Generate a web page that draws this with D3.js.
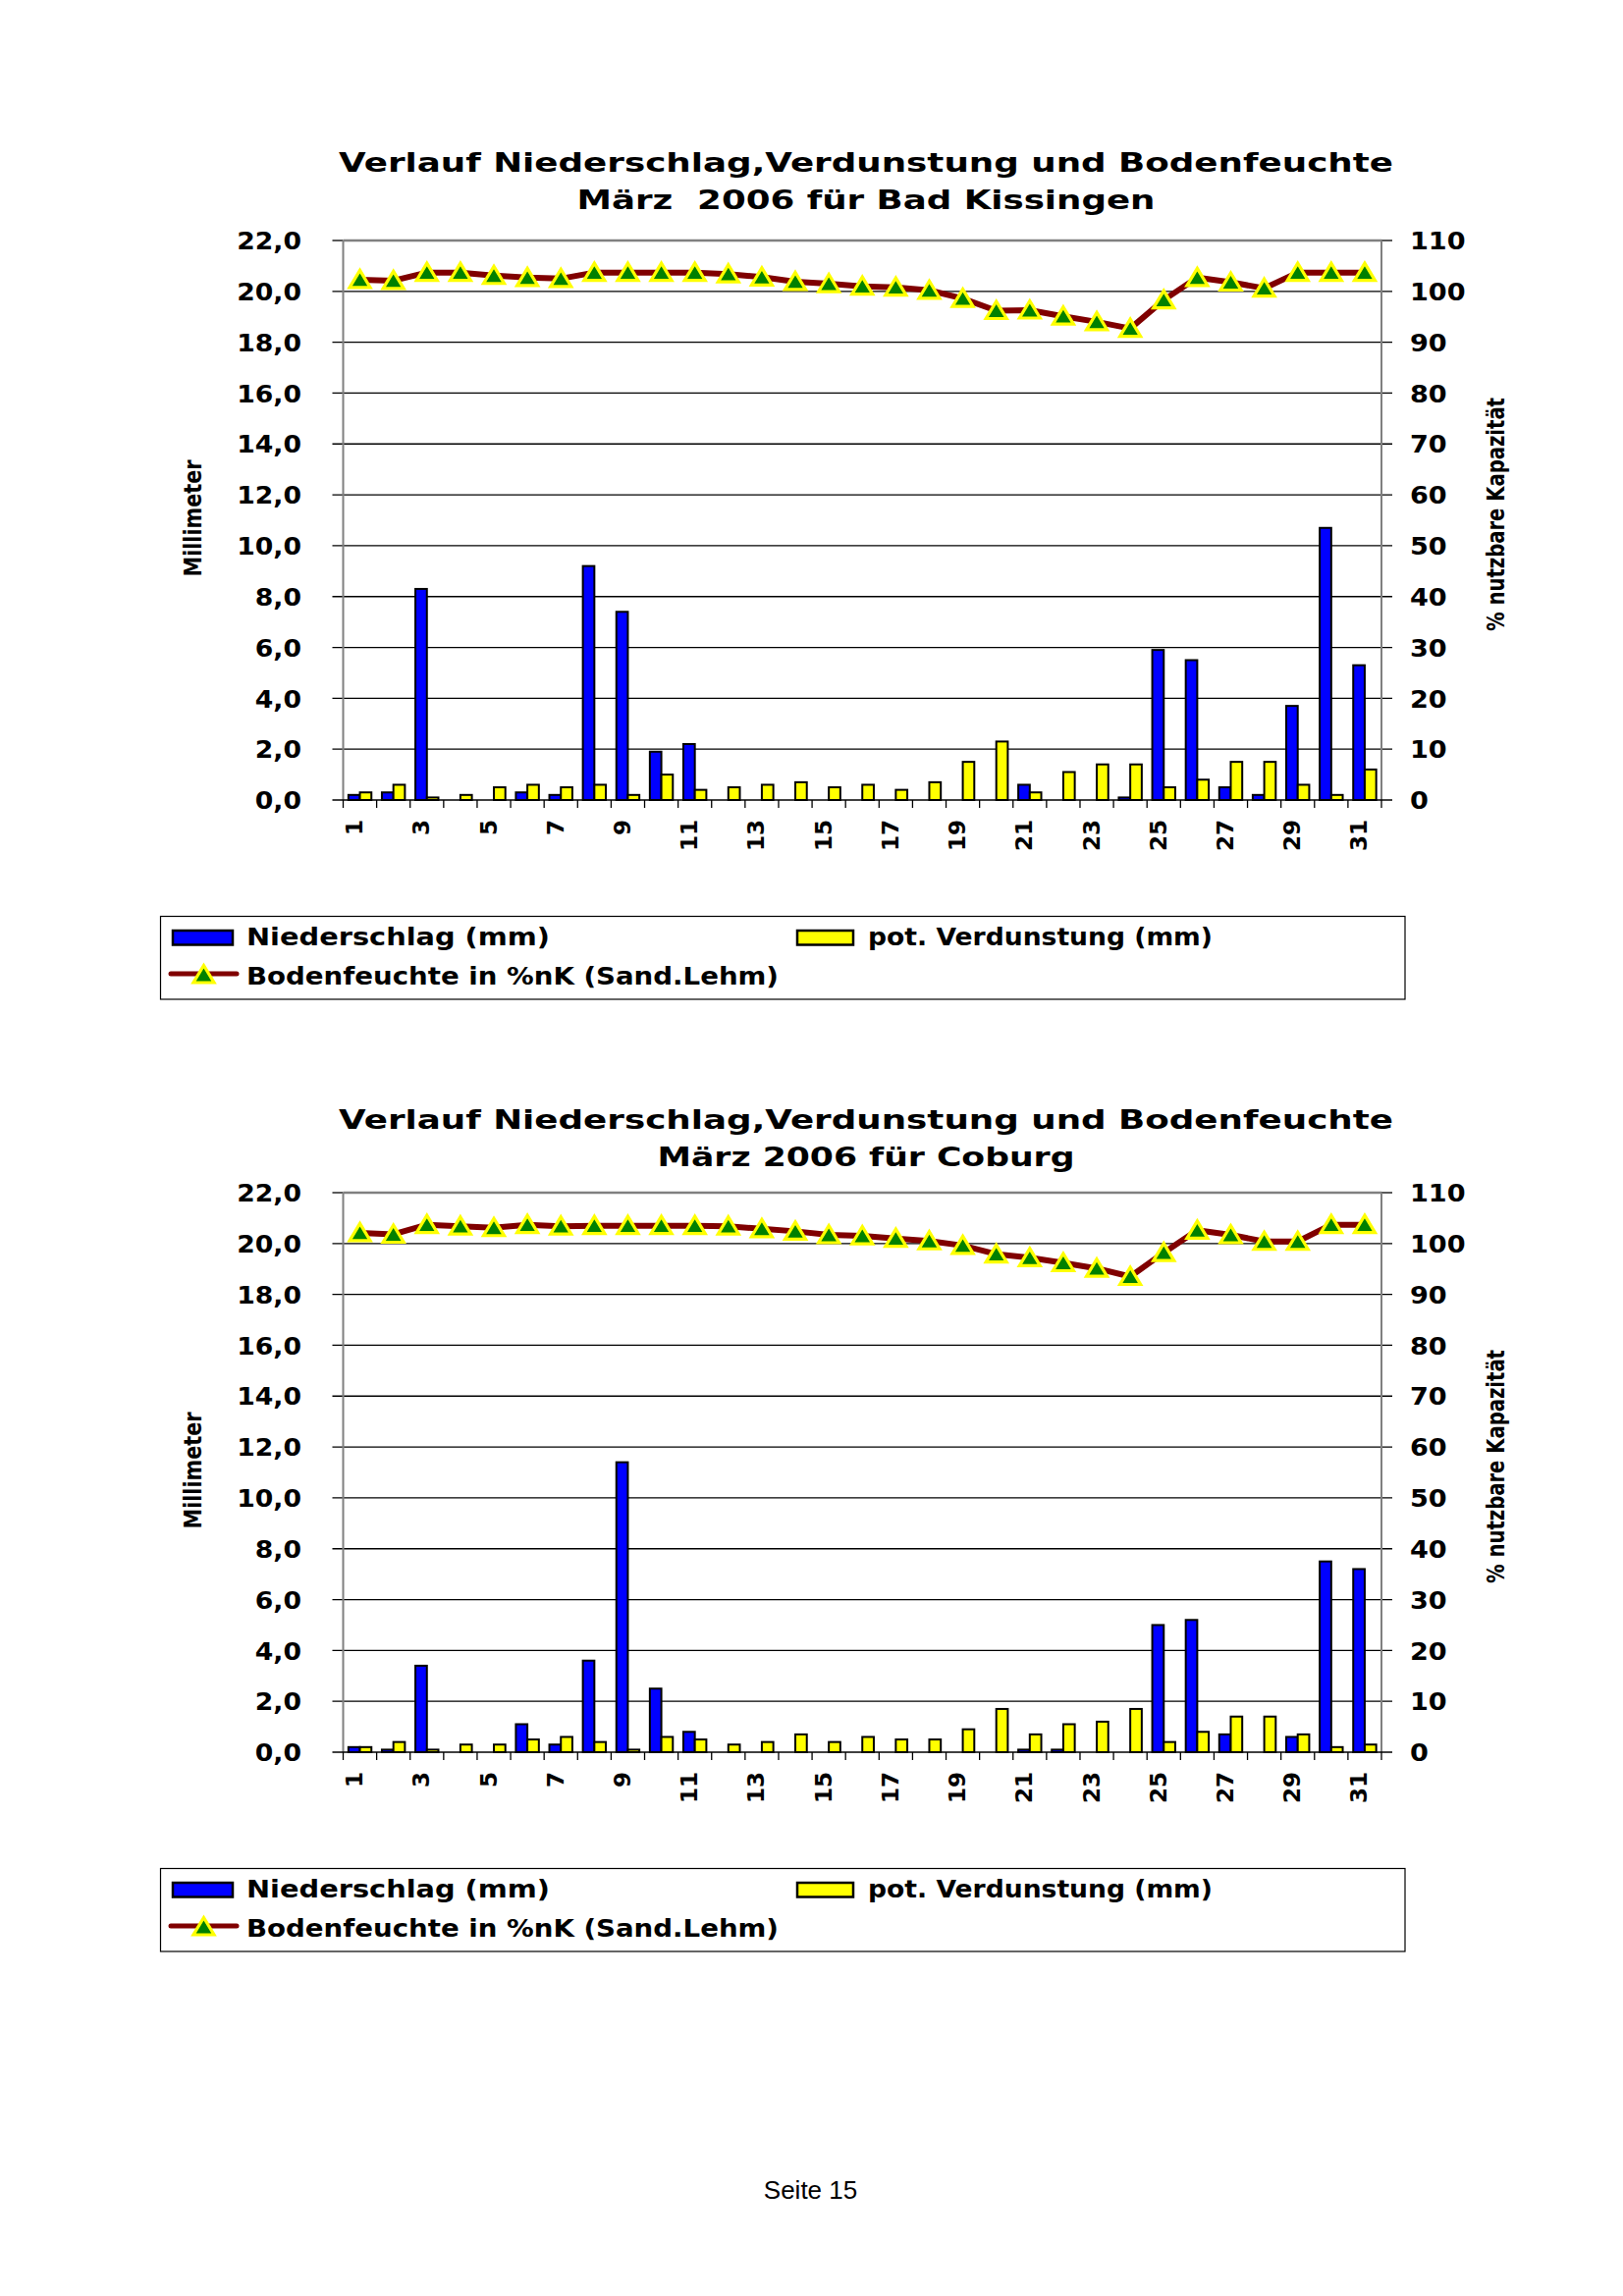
<!DOCTYPE html>
<html>
<head>
<meta charset="utf-8">
<script src="https://cdn.jsdelivr.net/npm/d3@7"></script>
<style>
  html, body { margin: 0; padding: 0; background: #fff; }
  svg { display: block; }
</style>
</head>
<body>
<script>
// ---------------- DATA ----------------
const days = [1,2,3,4,5,6,7,8,9,10,11,12,13,14,15,16,17,18,19,20,21,22,23,24,25,26,27,28,29,30,31];
const dayLabels = [1,3,5,7,9,11,13,15,17,19,21,23,25,27,29,31];
const mmTicks = [0,2,4,6,8,10,12,14,16,18,20,22];
const pctTicks = [0,10,20,30,40,50,60,70,80,90,100,110];

const titleLine1 = "Verlauf Niederschlag,Verdunstung und Bodenfeuchte";
const titleKissingen = "März  2006 für Bad Kissingen";
const titleCoburg = "März 2006 für Coburg";
const seriesNames = ["Niederschlag (mm)", "pot. Verdunstung (mm)", "Bodenfeuchte in %nK (Sand.Lehm)"];
const axisTitleLeft = "Millimeter";
const axisTitleRight = "% nutzbare Kapazität";
const pageLabel = "Seite 15";

// Bad Kissingen
const kissingenRain = [0.2,0.3,8.3,0,0,0.3,0.2,9.2,7.4,1.9,2.2,0,0,0,0,0,0,0,0,0,0.6,0,0,0.1,5.9,5.5,0.5,0.2,3.7,10.7,5.3];
const kissingenEvap = [0.3,0.6,0.1,0.2,0.5,0.6,0.5,0.6,0.2,1.0,0.4,0.5,0.6,0.7,0.5,0.6,0.4,0.7,1.5,2.3,0.3,1.1,1.4,1.4,0.5,0.8,1.5,1.5,0.6,0.2,1.2];
const kissingenSoil = [102.3,102.1,103.7,103.7,103.1,102.7,102.5,103.7,103.7,103.7,103.7,103.4,102.8,101.9,101.5,101.0,100.8,100.2,98.6,96.2,96.3,95.1,94.0,92.7,98.3,102.7,101.8,100.6,103.7,103.7,103.7];

// Coburg
const coburgRain = [0.2,0.1,3.4,0,0,1.1,0.3,3.6,11.4,2.5,0.8,0,0,0,0,0,0,0,0,0,0.1,0.1,0,0,5.0,5.2,0.7,0,0.6,7.5,7.2];
const coburgEvap = [0.2,0.4,0.1,0.3,0.3,0.5,0.6,0.4,0.1,0.6,0.5,0.3,0.4,0.7,0.4,0.6,0.5,0.5,0.9,1.7,0.7,1.1,1.2,1.7,0.4,0.8,1.4,1.4,0.7,0.2,0.3];
const coburgSoil = [102.1,101.8,103.7,103.4,103.1,103.7,103.4,103.5,103.5,103.5,103.5,103.4,102.9,102.4,101.7,101.5,101.0,100.5,99.6,97.9,97.2,96.2,95.1,93.5,98.2,102.6,101.7,100.4,100.4,103.7,103.7];

// ---------------- DRAWING ----------------
const W = 1653, H = 2339;
const BOLD = "'DejaVu Sans', Verdana, sans-serif";
const svg = d3.select("body").append("svg").attr("width", W).attr("height", H);
svg.append("rect").attr("width", W).attr("height", H).attr("fill", "#fff");

function fit(sel, target) {
  sel.attr("textLength", target).attr("lengthAdjust", "spacingAndGlyphs");
}
function stretch(sel, f) {
  sel.each(function () {
    const w = this.getComputedTextLength();
    d3.select(this).attr("textLength", w * f).attr("lengthAdjust", "spacingAndGlyphs");
  });
}

const charts = [
  { title2: titleKissingen, t2w: 589, top: 245, t1y: 175, t2y: 213, legendTop: 933,
    rain: kissingenRain, evap: kissingenEvap, soil: kissingenSoil },
  { title2: titleCoburg, t2w: 425, top: 1215, t1y: 1150, t2y: 1188, legendTop: 1903,
    rain: coburgRain, evap: coburgEvap, soil: coburgSoil }
];

const X0 = 349.5, X1 = 1407, PH = 570, CX = 882;

const triPath = "M0,-9.5L10.5,8L-10.5,8Z";

charts.forEach(c => {
  const g = svg.append("g");
  const top = c.top, bottom = top + PH;

  // Titles
  g.append("text").attr("x", CX).attr("y", c.t1y).attr("text-anchor", "middle")
    .style("font", `bold 27px ${BOLD}`).text(titleLine1).call(fit, 1074);
  g.append("text").attr("x", CX).attr("y", c.t2y).attr("text-anchor", "middle")
    .style("font", `bold 27px ${BOLD}`).style("white-space", "pre").text(c.title2).call(fit, c.t2w);

  // Scales
  const x = d3.scaleBand().domain(days).range([X0, X1]).padding(0);
  const sub = d3.scaleBand().domain(["rain", "evap"]).range([0, x.bandwidth()])
    .paddingInner(0).paddingOuter(0.457);
  const yL = d3.scaleLinear().domain([0, 22]).range([bottom, top]);
  const yR = d3.scaleLinear().domain([0, 110]).range([bottom, top]);

  // Gridlines (with tick extensions on both sides)
  g.append("g").selectAll("line").data(mmTicks.filter(t => t > 0 && t < 22)).join("line")
    .attr("x1", X0 - 11).attr("x2", X1 + 11)
    .attr("y1", d => yL(d)).attr("y2", d => yL(d))
    .attr("stroke", "#000").attr("stroke-width", 1.3);
  g.append("line").attr("x1", X0 - 11).attr("x2", X0).attr("y1", yL(22)).attr("y2", yL(22))
    .attr("stroke", "#000").attr("stroke-width", 1.3);
  g.append("line").attr("x1", X1).attr("x2", X1 + 11).attr("y1", yL(22)).attr("y2", yL(22))
    .attr("stroke", "#000").attr("stroke-width", 1.3);

  // Bars
  const keys = [["rain", c.rain, "#0000FF"], ["evap", c.evap, "#FFFF00"]];
  keys.forEach(([k, arr, col]) => {
    g.append("g").selectAll("rect")
      .data(days.map((d, i) => ({ d, v: arr[i] })).filter(o => o.v > 0))
      .join("rect")
      .attr("x", o => x(o.d) + sub(k))
      .attr("width", sub.bandwidth())
      .attr("y", o => yL(o.v))
      .attr("height", o => yL(0) - yL(o.v))
      .attr("fill", col).attr("stroke", "#000").attr("stroke-width", 2);
  });

  // Frame: top, left, right gray; bottom black
  g.append("line").attr("x1", X0).attr("x2", X1).attr("y1", top).attr("y2", top)
    .attr("stroke", "#808080").attr("stroke-width", 2.5);
  g.append("line").attr("x1", X0).attr("x2", X0).attr("y1", top).attr("y2", bottom)
    .attr("stroke", "#808080").attr("stroke-width", 2);
  g.append("line").attr("x1", X1).attr("x2", X1).attr("y1", top).attr("y2", bottom)
    .attr("stroke", "#808080").attr("stroke-width", 2);
  g.append("line").attr("x1", X0 - 11).attr("x2", X1 + 11).attr("y1", bottom).attr("y2", bottom)
    .attr("stroke", "#000").attr("stroke-width", 1.5);

  // Category boundary ticks
  const bounds = days.map(d => x(d)).concat([X1]);
  g.append("g").selectAll("line").data(bounds).join("line")
    .attr("x1", d => d).attr("x2", d => d).attr("y1", bottom).attr("y2", bottom + 8)
    .attr("stroke", "#000").attr("stroke-width", 1.3);

  // Left axis labels
  const axL = g.append("g").attr("transform", `translate(${X0},0)`)
    .call(d3.axisLeft(yL).tickValues(mmTicks).tickSize(0).tickPadding(42.5)
      .tickFormat(d => d.toFixed(1).replace(".", ",")));
  axL.select(".domain").remove();
  axL.selectAll("text").attr("dy", "0.36em").style("font", `bold 24px ${BOLD}`).attr("fill", "#000")
    .call(stretch, 1.11);

  // Right axis labels
  const axR = g.append("g").attr("transform", `translate(${X1},0)`)
    .call(d3.axisRight(yR).tickValues(pctTicks).tickSize(0).tickPadding(29));
  axR.select(".domain").remove();
  axR.selectAll("text").attr("dy", "0.36em").style("font", `bold 24px ${BOLD}`).attr("fill", "#000")
    .call(stretch, 1.13);

  // Bottom axis labels (rotated)
  const axB = g.append("g").attr("transform", `translate(0,${bottom})`)
    .call(d3.axisBottom(x).tickValues(dayLabels).tickSize(0));
  axB.select(".domain").remove();
  axB.selectAll("text")
    .attr("transform", "rotate(-90)")
    .attr("x", -20).attr("y", 2.5).attr("dy", null)
    .attr("text-anchor", "end")
    .style("font", `bold 23px ${BOLD}`).attr("fill", "#000");

  // Axis titles
  const midY = top + 283;
  g.append("text").attr("transform", `translate(205,${midY}) rotate(-90)`)
    .attr("text-anchor", "middle").style("font", `bold 24px ${BOLD}`)
    .text(axisTitleLeft).call(fit, 119);
  g.append("text").attr("transform", `translate(1532,${midY - 4}) rotate(-90)`)
    .attr("text-anchor", "middle").style("font", `bold 24px ${BOLD}`)
    .text(axisTitleRight).call(fit, 238);

  // Soil moisture line + markers
  const cxOf = i => x(days[i]) + x.bandwidth() / 2;
  const line = d3.line().x((d, i) => cxOf(i)).y(d => yR(d));
  g.append("path").datum(c.soil).attr("d", line)
    .attr("fill", "none").attr("stroke", "#800000").attr("stroke-width", 6)
    .attr("stroke-linejoin", "round");
  g.append("g").selectAll("path").data(c.soil).join("path")
    .attr("d", triPath)
    .attr("transform", (d, i) => `translate(${cxOf(i)},${yR(d)})`)
    .attr("fill", "#008000").attr("stroke", "#FFFF00").attr("stroke-width", 3.2);

  // Legend
  const lt = c.legendTop;
  const lg = g.append("g");
  lg.append("rect").attr("x", 163.5).attr("y", lt + 0.5).attr("width", 1267.5).attr("height", 84.5)
    .attr("fill", "#fff").attr("stroke", "#000").attr("stroke-width", 1.2);
  lg.append("rect").attr("x", 176).attr("y", lt + 15).attr("width", 61).attr("height", 14.5)
    .attr("fill", "#0000FF").attr("stroke", "#000").attr("stroke-width", 2.5);
  lg.append("text").attr("x", 251).attr("y", lt + 30).style("font", `bold 25px ${BOLD}`)
    .text(seriesNames[0]).call(fit, 309);
  lg.append("rect").attr("x", 812).attr("y", lt + 15).attr("width", 57).attr("height", 14.5)
    .attr("fill", "#FFFF00").attr("stroke", "#000").attr("stroke-width", 2.5);
  lg.append("text").attr("x", 884).attr("y", lt + 30).style("font", `bold 25px ${BOLD}`)
    .text(seriesNames[1]).call(fit, 351);
  lg.append("line").attr("x1", 174).attr("x2", 241).attr("y1", lt + 59).attr("y2", lt + 59)
    .attr("stroke", "#800000").attr("stroke-width", 5).attr("stroke-linecap", "round");
  lg.append("path").attr("d", triPath).attr("transform", `translate(207.5,${lt + 60})`)
    .attr("fill", "#008000").attr("stroke", "#FFFF00").attr("stroke-width", 3.2);
  lg.append("text").attr("x", 251).attr("y", lt + 70).style("font", `bold 25px ${BOLD}`)
    .text(seriesNames[2]).call(fit, 542);
});

// Page label
svg.append("text").attr("x", 825.5).attr("y", 2240).attr("text-anchor", "middle")
  .style("font", "26px 'Liberation Sans', Arial, sans-serif").attr("fill", "#000")
  .text(pageLabel);
</script>
</body>
</html>
